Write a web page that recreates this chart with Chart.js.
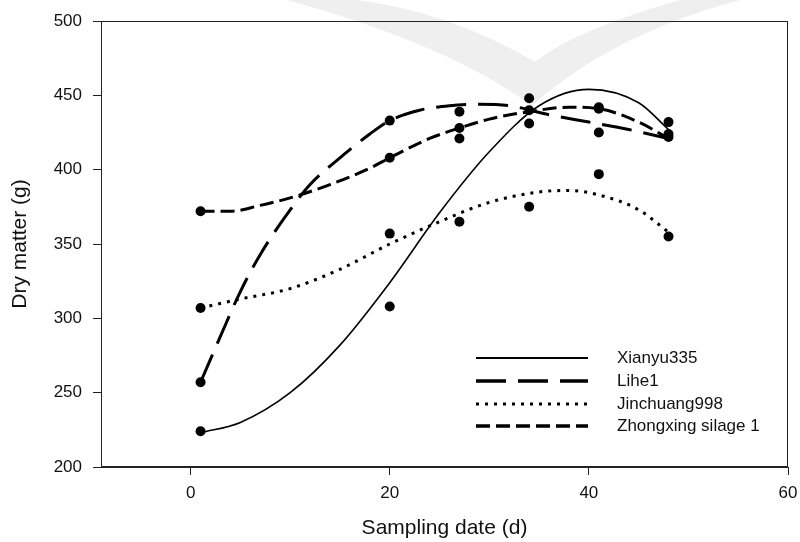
<!DOCTYPE html>
<html>
<head>
<meta charset="utf-8">
<script src="https://cdn.jsdelivr.net/npm/chart.js@4.4.1/dist/chart.umd.min.js"></script>
<style>
  html, body { margin: 0; padding: 0; background: #fff; }
  #wrap { width: 800px; height: 542px; }
</style>
</head>
<body>
<div id="wrap"><canvas id="dmChart" width="800" height="542"></canvas></div>
<script>
// sampling days and measured dry matter (g)
var days = [1, 20, 27, 34, 41, 48];
var xianyuObs = [224, 308, 421, 448, 442, 432];
var liheObs = [257, 433, 439, 431, 425, 422];
var jinchuangObs = [307, 357, 365, 375, 397, 355];
var zhongxingObs = [372, 408, 428, 440, 441, 424];

// fitted curves
var xianyuFitDays = [1, 5, 10, 15, 20, 25, 30, 35, 40, 45, 48];
var xianyuFit = [223, 230, 250, 282, 324, 371, 412, 443, 454, 445, 427];
var liheFitDays = [1, 3, 5, 7, 10, 12, 15, 18, 20, 23, 26, 29, 32, 36, 40, 44, 48];
var liheFit = [257, 288, 318, 343, 373, 390, 408, 424, 433, 440, 443, 444, 443, 437, 432, 427, 421];
var jinchuangFitDays = [1, 5, 10, 15, 20, 25, 30, 35, 38, 41, 45, 48];
var jinchuangFit = [307, 313, 320, 333, 350, 365, 378, 385, 386, 383, 373, 358];
var zhongxingFitDays = [1, 4, 7, 10, 14, 18, 20, 24, 27, 30, 34, 38, 41, 45, 48];
var zhongxingFit = [372, 372, 376, 381, 390, 401, 408, 421, 428, 434, 439, 442, 441, 432, 421];

var seriesNames = ["Xianyu335", "Lihe1", "Jinchuang998", "Zhongxing silage 1"];
var xTicks = [0, 20, 40, 60];
var yTicks = [200, 250, 300, 350, 400, 450, 500];

var FONT = "'Liberation Sans', Arial, sans-serif";
var lineStyles = [
  { dash: [], width: 1.6, legendWidth: 2 },
  { dash: [30, 12], width: 3, legendWidth: 3.5 },
  { dash: [3, 6], width: 3, legendWidth: 3 },
  { dash: [14, 6], width: 3, legendWidth: 3.5 },
];

function pts(xs, ys) {
  return xs.map(function (x, i) {
    return { x: x, y: ys[i] };
  });
}

var obsSets = [xianyuObs, liheObs, jinchuangObs, zhongxingObs];
var fitSets = [
  [xianyuFitDays, xianyuFit],
  [liheFitDays, liheFit],
  [jinchuangFitDays, jinchuangFit],
  [zhongxingFitDays, zhongxingFit],
];

var datasets = [];
obsSets.forEach(function (vals, i) {
  datasets.push({
    type: "scatter",
    label: seriesNames[i] + " obs",
    data: pts(days, vals),
    pointRadius: 5,
    pointHoverRadius: 5,
    pointBackgroundColor: "#000",
    pointBorderWidth: 0,
    showLine: false,
  });
});
fitSets.forEach(function (f, i) {
  var st = lineStyles[i];
  datasets.push({
    type: "line",
    label: seriesNames[i],
    data: pts(f[0], f[1]),
    borderColor: "#000",
    borderWidth: st.width,
    borderDash: st.dash,
    borderCapStyle: "butt",
    pointRadius: 0,
    cubicInterpolationMode: "monotone",
    fill: false,
  });
});

var framePlugin = {
  id: "frame",
  beforeDraw: function (chart) {
    // faint watermark swoosh in the source image
    var ctx = chart.ctx;
    ctx.save();
    ctx.fillStyle = "#efefef";
    ctx.beginPath();
    ctx.moveTo(287, 0);
    ctx.quadraticCurveTo(450, 45, 532, 106);
    ctx.quadraticCurveTo(610, 35, 740, 0);
    ctx.lineTo(680, 0);
    ctx.quadraticCurveTo(575, 30, 535, 62);
    ctx.quadraticCurveTo(450, 12, 357, 0);
    ctx.closePath();
    ctx.fill();
    ctx.restore();
  },
  afterDraw: function (chart) {
    var ctx = chart.ctx;
    var a = chart.chartArea;
    ctx.save();
    ctx.strokeStyle = "#222";
    ctx.lineWidth = 1;
    ctx.strokeRect(Math.round(a.left) + 0.5, Math.round(a.top) + 0.5, Math.round(a.right - a.left) - 1, Math.round(a.bottom - a.top) - 1);

    // legend inside the plot
    var lx0 = 476, lx1 = 588, tx = 617;
    var rowY = [358, 381, 404, 426];
    ctx.font = "17px " + FONT;
    ctx.textBaseline = "middle";
    ctx.textAlign = "left";
    ctx.fillStyle = "#111";
    seriesNames.forEach(function (name, i) {
      var st = lineStyles[i];
      ctx.beginPath();
      ctx.setLineDash(st.dash);
      ctx.lineWidth = st.legendWidth;
      ctx.lineCap = "butt";
      ctx.strokeStyle = "#000";
      ctx.moveTo(lx0, rowY[i]);
      ctx.lineTo(lx1, rowY[i]);
      ctx.stroke();
      ctx.setLineDash([]);
      ctx.fillText(name, tx, rowY[i]);
    });
    ctx.restore();
  },
};

new Chart(document.getElementById("dmChart").getContext("2d"), {
  type: "scatter",
  data: { datasets: datasets },
  plugins: [framePlugin],
  options: {
    responsive: false,
    animation: false,
    devicePixelRatio: 1,
    layout: { padding: { left: 0, right: 12, top: 21, bottom: 0 } },
    plugins: {
      legend: { display: false },
      tooltip: { enabled: false },
    },
    scales: {
      x: {
        type: "linear",
        min: -9,
        max: 60,
        afterBuildTicks: function (scale) {
          scale.ticks = xTicks.map(function (v) {
            return { value: v };
          });
        },
        afterFit: function (scale) {
          scale.height = 75;
          scale.paddingLeft = 0;
          scale.paddingRight = 0;
        },
        grid: { drawOnChartArea: false, drawTicks: true, tickLength: 8, color: "#222" },
        border: { display: true, color: "#222", width: 1 },
        ticks: { color: "#111", padding: 8, maxRotation: 0, font: { family: FONT, size: 17 } },
        title: {
          display: true,
          text: "Sampling date (d)",
          color: "#111",
          font: { family: FONT, size: 21 },
          padding: { top: 0, bottom: 1 },
        },
      },
      y: {
        type: "linear",
        min: 200,
        max: 500,
        afterBuildTicks: function (scale) {
          scale.ticks = yTicks.map(function (v) {
            return { value: v };
          });
        },
        afterFit: function (scale) {
          scale.width = 101;
          scale.paddingTop = 0;
          scale.paddingBottom = 0;
        },
        grid: { drawOnChartArea: false, drawTicks: true, tickLength: 8, color: "#222" },
        border: { display: true, color: "#222", width: 1 },
        ticks: { color: "#111", padding: 11, font: { family: FONT, size: 17 } },
        title: {
          display: true,
          text: "Dry matter (g)",
          color: "#111",
          font: { family: FONT, size: 21 },
          padding: { top: 8, bottom: 0 },
        },
      },
    },
  },
});
</script>
</body>
</html>
